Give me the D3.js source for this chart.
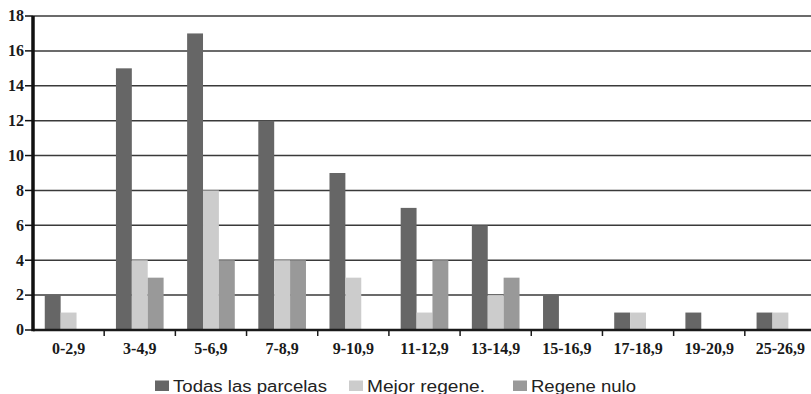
<!DOCTYPE html>
<html><head><meta charset="utf-8">
<script src="https://cdn.jsdelivr.net/npm/d3@7"></script>
<style>body{margin:0;background:#fff}svg{display:block}</style>
</head><body>
<svg id="c" width="811" height="394"></svg>
<script>
const categories = ["0-2,9","3-4,9","5-6,9","7-8,9","9-10,9","11-12,9","13-14,9","15-16,9","17-18,9","19-20,9","25-26,9"];
const seriesNames = ["Todas las parcelas","Mejor regene.","Regene nulo"];
const todas = [2,15,17,12,9,7,6,2,1,1,1];
const mejor = [1,4,8,4,3,1,2,0,1,0,1];
const nulo  = [0,3,4,4,0,4,3,0,0,0,0];
const yTicks = [0,2,4,6,8,10,12,14,16,18];
const colors = ["#666666","#cccccc","#999999"];

const series = [todas, mejor, nulo];
const svg = d3.select("#c");
const x0 = 33, x1 = 816, yTop = 16, yBot = 330;
const x = d3.scaleBand().domain(categories).range([x0, x1]).paddingInner(0).paddingOuter(0);
const xs = d3.scaleBand().domain(d3.range(3)).range([0, x.bandwidth()]).paddingInner(0).paddingOuter(0.74);
const y = d3.scaleLinear().domain([0,18]).range([yBot, yTop]);

// gridlines
svg.append("g").selectAll("line").data(yTicks.filter(d=>d>0)).join("line")
  .attr("x1", x0).attr("x2", 811).attr("y1", d=>y(d)).attr("y2", d=>y(d))
  .attr("stroke", "#3a3a3a").attr("stroke-width", 1.5);

// bars
const g = svg.append("g");
series.forEach((s, si) => {
  g.append("g").selectAll("rect").data(s.map((v,i)=>({v, c:categories[i]}))).join("rect")
    .attr("x", d => x(d.c) + xs(si))
    .attr("width", xs.bandwidth())
    .attr("y", d => y(d.v))
    .attr("height", d => yBot - y(d.v))
    .attr("fill", colors[si]);
});

// x axis
const xAxis = svg.append("g");
xAxis.append("line").attr("x1", x0).attr("x2", 811).attr("y1", yBot).attr("y2", yBot)
  .attr("stroke", "#1a1a1a").attr("stroke-width", 2.5);
xAxis.selectAll("line.t").data(categories.slice(1)).join("line").attr("class","t")
  .attr("x1", d=>x(d)).attr("x2", d=>x(d)).attr("y1", yBot).attr("y2", yBot+6)
  .attr("stroke", "#1a1a1a").attr("stroke-width", 1.5);
xAxis.selectAll("text").data(categories).join("text")
  .attr("x", d => x(d) + x.bandwidth()/2).attr("y", yBot + 24)
  .attr("text-anchor", "middle")
  .attr("font-family", "Liberation Serif, serif").attr("font-weight", "bold").attr("font-size", 16)
  .attr("fill", "#1a1a1a").text(d=>d);

// y axis
const yAxis = svg.append("g");
yAxis.append("line").attr("x1", x0).attr("x2", x0).attr("y1", yTop).attr("y2", yBot+1.25)
  .attr("stroke", "#111").attr("stroke-width", 3.5);
yAxis.selectAll("line.t").data(yTicks).join("line").attr("class","t")
  .attr("x1", 25).attr("x2", x0).attr("y1", d=>y(d)).attr("y2", d=>y(d))
  .attr("stroke", "#111").attr("stroke-width", 1.5);
yAxis.selectAll("text").data(yTicks).join("text")
  .attr("x", 24).attr("y", d=>y(d)).attr("dy", "0.33em")
  .attr("text-anchor", "end")
  .attr("font-family", "Liberation Serif, serif").attr("font-weight", "bold").attr("font-size", 16)
  .attr("fill", "#1a1a1a").text(d=>d);

// legend
const legX = [155, 349, 513];
const legW = [154, 118, 105];
const leg = svg.append("g");
seriesNames.forEach((n, i) => {
  leg.append("rect").attr("x", legX[i]).attr("y", 380.5).attr("width", 14).attr("height", 10.5).attr("fill", colors[i]);
  leg.append("text").attr("x", legX[i] + 18).attr("y", 391.5)
    .attr("font-family", "Liberation Sans, Arial, sans-serif").attr("font-size", 16)
    .attr("textLength", legW[i]).attr("lengthAdjust", "spacingAndGlyphs")
    .attr("fill", "#222").text(n);
});
</script>
</body></html>
